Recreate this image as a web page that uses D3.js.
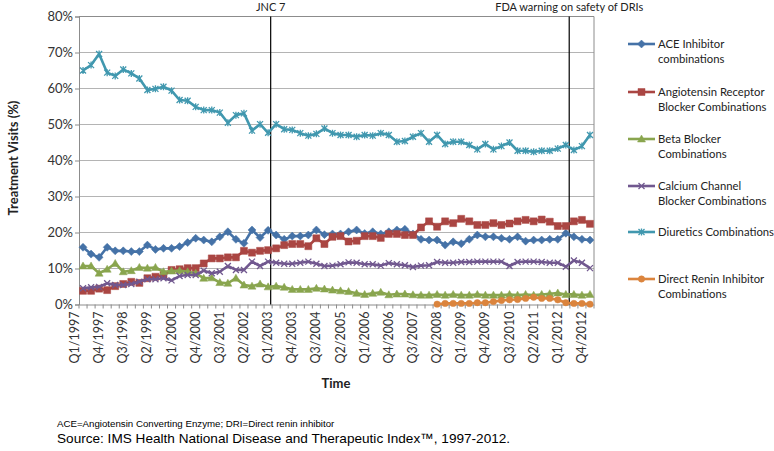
<!DOCTYPE html>
<html><head><meta charset="utf-8">
<script src="https://cdn.jsdelivr.net/npm/d3@7"></script>
<style>body{margin:0;background:#fff}svg{display:block}</style>
</head><body>
<svg id="chart" width="774" height="451"></svg>
<script>
// ---- data ----
const years = [1997,1998,1999,2000,2001,2002,2003,2004,2005,2006,2007,2008,2009,2010,2011,2012];
const quarters = ["Q1","Q2","Q3","Q4"];
const categories = [];
years.forEach(y => quarters.forEach(q => categories.push(q + "/" + y)));
const tickLabels = ["Q1/1997","Q4/1997","Q3/1998","Q2/1999","Q1/2000","Q4/2000","Q3/2001","Q2/2002","Q1/2003","Q4/2003","Q3/2004","Q2/2005","Q1/2006","Q4/2006","Q3/2007","Q2/2008","Q1/2009","Q4/2009","Q3/2010","Q2/2011","Q1/2012","Q4/2012"];
const yTicks = [0,10,20,30,40,50,60,70,80];

const aceInhibitor = [15.9,14.0,13.1,15.9,14.9,14.9,14.7,14.7,16.5,15.3,15.6,15.6,16.1,17.2,18.4,17.9,17.4,18.8,20.2,18.1,17.0,20.7,18.6,20.6,19.3,18.1,19.0,19.0,19.3,20.7,19.4,19.6,19.6,20.2,20.7,19.7,20.2,19.6,20.2,20.7,20.9,19.6,18.1,17.9,17.9,16.5,17.4,16.9,18.1,19.3,18.8,18.8,18.4,18.1,18.8,17.6,17.9,17.9,18.1,18.1,19.8,18.8,18.1,17.9];
const arbBlocker = [3.8,3.8,4.4,4.0,5.1,5.7,6.3,6.0,7.3,7.7,8.2,9.6,9.8,10.1,10.1,11.4,12.8,12.8,13.1,13.1,14.9,14.4,14.9,15.1,15.6,16.5,16.8,16.8,16.2,18.4,16.8,18.8,19.0,17.5,17.7,19.0,19.0,18.5,19.6,19.6,19.3,19.3,21.4,23.1,21.6,23.1,22.6,23.8,23.1,22.1,22.1,22.6,22.1,22.5,23.1,23.5,23.1,23.6,23.0,21.8,21.8,23.1,23.5,22.4];
const betaBlocker = [10.7,10.7,8.7,9.8,11.4,9.1,9.4,10.3,10.1,10.3,9.1,9.3,9.4,9.1,8.7,7.3,7.4,6.1,5.9,7.3,5.4,5.1,5.7,4.9,5.1,4.8,4.2,4.2,4.2,4.5,4.3,4.0,3.8,3.6,3.1,2.8,3.1,3.4,2.7,2.9,2.9,2.7,2.6,2.6,2.8,2.6,2.8,2.6,2.6,2.8,2.6,2.6,2.6,2.8,2.6,2.8,2.6,2.8,3.0,3.2,2.8,2.8,2.6,2.8];
const calciumChannel = [4.5,4.8,4.9,5.9,5.4,5.4,5.7,6.3,7.0,7.0,7.3,6.7,7.9,8.2,8.2,9.4,8.7,9.1,10.7,9.6,9.6,11.9,10.7,11.9,11.6,11.3,11.3,11.6,11.9,11.3,10.7,10.8,11.2,11.7,11.6,11.2,11.2,10.8,11.5,11.2,10.9,10.4,10.8,10.9,11.8,11.6,11.6,11.8,11.8,11.9,11.9,11.9,11.9,10.7,11.8,11.9,11.9,11.8,11.6,11.6,10.5,12.2,11.6,10.1];
const diuretics = [65.0,66.5,69.6,64.4,63.5,65.3,64.2,62.8,59.6,59.9,60.5,59.4,56.8,56.6,54.9,54.0,54.0,53.3,50.5,52.6,53.1,48.3,50.1,47.7,50.1,48.7,48.5,47.6,46.9,47.4,48.9,47.6,47.1,47.1,46.6,47.1,46.9,47.6,47.1,45.2,45.4,46.6,47.6,45.2,47.1,44.6,45.2,45.2,44.3,43.1,44.6,43.1,44.0,45.0,42.7,42.7,42.4,42.7,42.7,43.3,44.3,42.9,44.0,47.1];
const driStart = "Q1/2008";
const directRenin = [0.1,0.3,0.3,0.3,0.3,0.5,0.5,0.8,1.1,1.3,1.4,1.7,2.0,1.7,1.7,1.3,0.5,0.3,0.3,0.1];

const seriesNames = ["ACE Inhibitor\ncombinations","Angiotensin Receptor\nBlocker Combinations","Beta Blocker\nCombinations","Calcium Channel\nBlocker Combinations","Diuretics Combinations","Direct Renin Inhibitor\nCombinations"];
const seriesColors = ["#4572A7","#AA4643","#89A54E","#71588F","#4198AF","#DB843D"];
const seriesMarkers = ["diamond","square","triangle","x","star","circle"];

const events = [
  {label:"JNC 7", category:"Q1/2003", offset:-0.18},
  {label:"FDA warning on safety of DRIs", category:"Q2/2012", offset:-0.08}
];

// ---- build ----
const driIdx = categories.indexOf(driStart);
const seriesData = [aceInhibitor, arbBlocker, betaBlocker, calciumChannel, diuretics, directRenin]
  .map((arr, s) => {
    const start = s === 5 ? driIdx : 0;
    return arr.map((v,i)=>({cat: categories[start+i], v}));
  });

const svg = d3.select("#chart");
const L = 79, R = 594, T = 16.5, B = 304.5;
const x = d3.scaleBand().domain(categories).range([L, R]);
const y = d3.scaleLinear().domain([0, 80]).range([B, T]);
const font = "Lato, 'Open Sans', sans-serif";

// gridlines
svg.append("g").selectAll("line").data(yTicks.filter(d=>d>0)).join("line")
  .attr("x1", L).attr("x2", R).attr("y1", d=>y(d)).attr("y2", d=>y(d))
  .attr("stroke", d => d===80 ? "#8c8c8c" : "#b4b4b4").attr("stroke-width", 1);
// right border
svg.append("line").attr("x1",R).attr("x2",R).attr("y1",T).attr("y2",B).attr("stroke","#8c8c8c");

// y axis
const yAxis = svg.append("g").attr("transform",`translate(${L},0)`)
  .call(d3.axisLeft(y).tickValues(yTicks).tickFormat(d=>d+"%").tickSize(4).tickPadding(2));
yAxis.select(".domain").attr("stroke","#8c8c8c");
yAxis.selectAll(".tick line").attr("stroke","#8c8c8c");
yAxis.selectAll("text").attr("font-family",font).attr("font-size","13px").attr("fill","#333");

// x axis
const xAxis = svg.append("g").attr("transform",`translate(0,${B})`)
  .call(d3.axisBottom(x).tickValues(tickLabels).tickSize(0).tickPadding(6));
xAxis.select(".domain").attr("stroke","#8c8c8c");
xAxis.selectAll("text").attr("font-family",font).attr("font-size","12.5px").attr("fill","#333")
  .attr("transform","rotate(-90)").attr("text-anchor","end").attr("dx","-7").attr("dy","-0.32em")
  .attr("x",0).attr("y",0);
// minor tick marks at band boundaries
svg.append("g").selectAll("line").data(categories.concat(["__end"])).join("line")
  .attr("x1", d => d==="__end" ? R : x(d)).attr("x2", d => d==="__end" ? R : x(d))
  .attr("y1", B).attr("y2", B+4).attr("stroke","#8c8c8c");

// event lines
const ev = svg.append("g");
events.forEach(e => {
  const ex = x(e.category) + e.offset * x.bandwidth();
  ev.append("line").attr("x1",ex).attr("x2",ex).attr("y1",T).attr("y2",B).attr("stroke","#000").attr("stroke-width",1.2);
  ev.append("text").attr("x",ex).attr("y",11).attr("text-anchor","middle")
    .attr("font-family",font).attr("font-size","11px").attr("fill","#222").text(e.label);
});

// markers
function markerPath(type){
  switch(type){
    case "diamond": return "M0,-4L4,0L0,4L-4,0Z";
    case "square": return "M-3.5,-3.5H3.5V3.5H-3.5Z";
    case "triangle": return "M0,-4L4,3L-4,3Z";
    case "circle": return "M3.2,0A3.2,3.2 0 1,1 -3.2,0A3.2,3.2 0 1,1 3.2,0Z";
    case "x": return "M-3,-3L3,3M-3,3L3,-3";
    case "star": return "M-3,-3L3,3M-3,3L3,-3M0,-3.5V3.5";
  }
}
const line = d3.line().x(d=>x(d.cat)+x.bandwidth()/2).y(d=>y(d.v));
seriesData.forEach((data, s) => {
  const g = svg.append("g");
  g.append("path").datum(data).attr("d",line).attr("fill","none")
    .attr("stroke",seriesColors[s]).attr("stroke-width",2.6).attr("stroke-linejoin","round");
  const stroked = seriesMarkers[s]==="x" || seriesMarkers[s]==="star";
  g.selectAll("path.m").data(data).join("path").attr("class","m")
    .attr("transform", d=>`translate(${x(d.cat)+x.bandwidth()/2},${y(d.v)})`)
    .attr("d", markerPath(seriesMarkers[s]))
    .attr("fill", stroked ? "none" : seriesColors[s])
    .attr("stroke", seriesColors[s]).attr("stroke-width", stroked ? 1.3 : 0.5);
});

// axis titles
svg.append("text").attr("transform","translate(18,158) rotate(-90)").attr("text-anchor","middle")
  .attr("font-family",font).attr("font-size","13px").attr("font-weight","bold").attr("fill","#222")
  .text("Treatment Visits (%)");
svg.append("text").attr("x",336).attr("y",388).attr("text-anchor","middle")
  .attr("font-family",font).attr("font-size","13px").attr("font-weight","bold").attr("fill","#222")
  .text("Time");

// legend
const legendY = [44, 92, 139, 186, 232, 279];
const lg = svg.append("g");
seriesNames.forEach((name, s) => {
  const ly = legendY[s];
  lg.append("line").attr("x1",628).attr("x2",655).attr("y1",ly).attr("y2",ly)
    .attr("stroke",seriesColors[s]).attr("stroke-width",2.6);
  const stroked = seriesMarkers[s]==="x" || seriesMarkers[s]==="star";
  lg.append("path").attr("transform",`translate(641.5,${ly})`).attr("d",markerPath(seriesMarkers[s]))
    .attr("fill", stroked ? "none" : seriesColors[s]).attr("stroke",seriesColors[s]).attr("stroke-width", stroked?1.3:0.5);
  const t = lg.append("text").attr("x",658).attr("y",ly+4)
    .attr("font-family",font).attr("font-size","11.3px").attr("fill","#222");
  name.split("\n").forEach((ln,i)=> t.append("tspan").attr("x",658).attr("dy", i===0?0:15).text(ln));
});

// footnotes
svg.append("text").attr("x",57).attr("y",427).attr("font-family","'Liberation Sans', Arial, sans-serif")
  .attr("font-size","9.7px").attr("fill","#000").text("ACE=Angiotensin Converting Enzyme; DRI=Direct renin inhibitor");
svg.append("text").attr("x",57).attr("y",443).attr("font-family","'Liberation Sans', Arial, sans-serif")
  .attr("font-size","13.6px").attr("fill","#000").text("Source:  IMS Health National Disease and Therapeutic Index\u2122, 1997-2012.");
</script>
</body></html>
